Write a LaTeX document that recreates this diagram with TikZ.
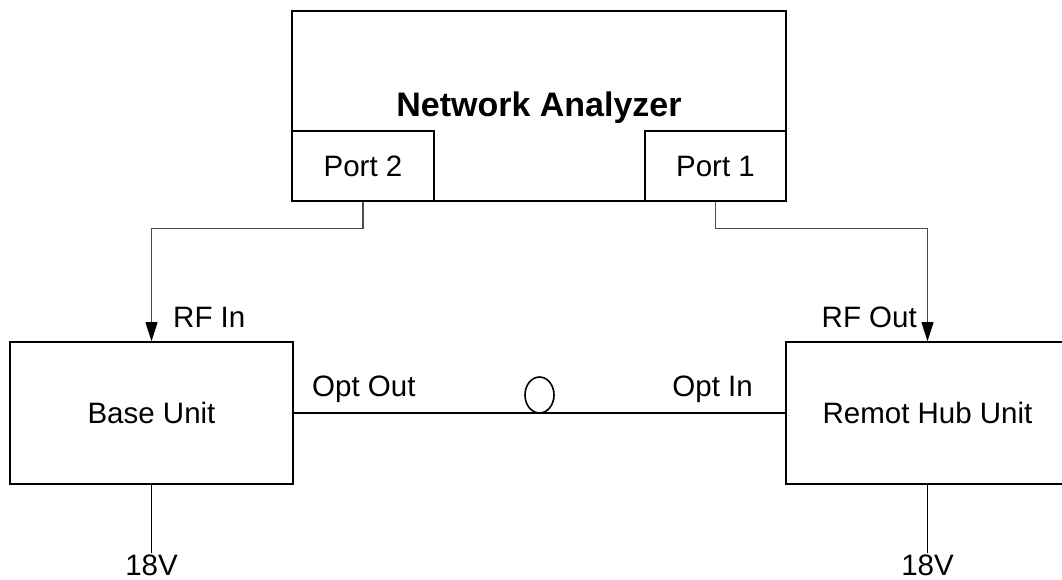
\documentclass[tikz,border=0pt]{standalone}
\usepackage{fontspec}
\setmainfont{Liberation Sans}
\usetikzlibrary{arrows.meta,shapes.geometric}
\tikzstyle{unit}=[rectangle,draw,line width=1.6pt,inner sep=0pt,font=\fontsize{29.5}{34}\selectfont]
\tikzstyle{edge}=[draw,line width=1.1pt,black!70,-{Triangle[length=19pt,width=12pt,color=black]}]
\tikzstyle{wire}=[draw,line width=1.8pt]
\tikzstyle{tag}=[inner sep=0pt,font=\fontsize{29.5}{34}\selectfont]

\begin{document}
\begin{tikzpicture}[x=1pt,y=-1pt]
    \useasboundingbox (0,0) rectangle (1062,580);
    \clip (0,0) rectangle (1062,580);
        \node[unit,minimum width=494pt,minimum height=190pt] (NA) at (539,106) {};
        \node[tag,font=\bfseries\fontsize{34}{40}\selectfont,anchor=base] (title) at (539,117) {Network Analyzer};
        \node[unit,minimum width=142pt,minimum height=70pt] (P2) at (363,166) {Port 2};
        \node[unit,minimum width=141pt,minimum height=70pt] (P1) at (715.5,166) {Port 1};
        \node[unit,minimum width=283pt,minimum height=142pt] (base) at (151.5,413) {Base Unit};
        \node[unit,minimum width=283pt,minimum height=142pt] (hub) at (927.5,413) {Remot Hub Unit};
        \node[ellipse,draw,line width=1.6pt,minimum width=29pt,minimum height=36pt,inner sep=0pt] (loop) at (539.5,395) {};
        \coordinate (v1) at (151.5,553);
        \coordinate (v2) at (927.5,553);
        \path[edge] (P2.south) -- ++(0,27) -| (base.north);
        \path[edge] (P1.south) -- ++(0,27) -| (hub.north);
        \path[wire] (base.east) -- (hub.west);
        \path[wire] (base.south) -- (v1);
        \path[wire] (hub.south) -- (v2);
        \node[tag,anchor=base west] (rfin) at (173,327) {RF In};
        \node[tag,anchor=base east] (rfout) at (917,327) {RF Out};
        \node[tag,anchor=base west] (optout) at (312,396) {Opt Out};
        \node[tag,anchor=base east] (optin) at (753,396) {Opt In};
        \node[tag,anchor=base] (pw1) at (151.5,575) {18V};
        \node[tag,anchor=base] (pw2) at (927.5,575) {18V};
    \end{tikzpicture}
\end{document}
